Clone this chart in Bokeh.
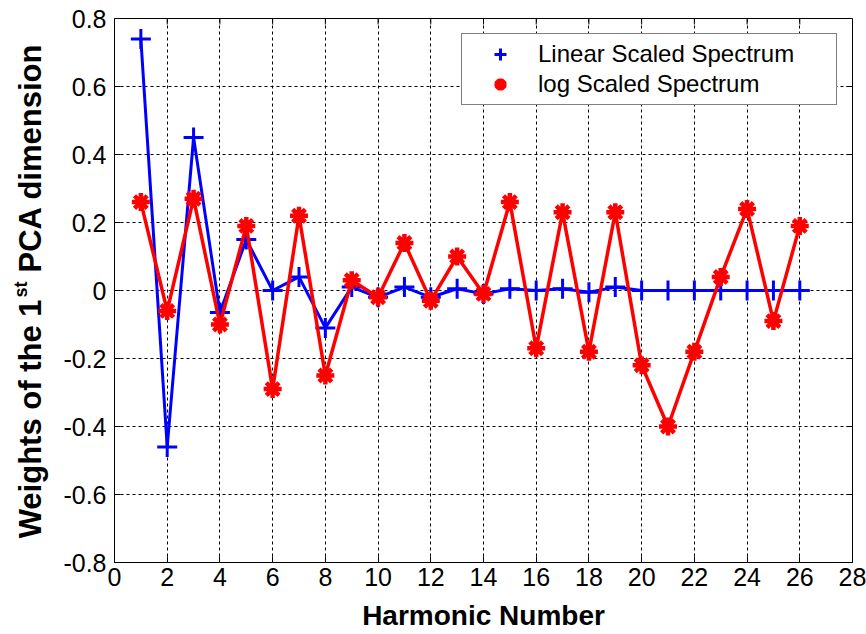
import math
from bokeh.plotting import figure
from bokeh.layouts import row
from bokeh.models import (ColumnDataSource, FixedTicker, Range1d,
                          Label, Legend, LegendItem)
from bokeh.embed import file_html
from bokeh.resources import INLINE

# ---- data ----
harmonics = [1, 2, 3, 4, 5, 6, 7, 8, 9, 10, 11, 12, 13,
             14, 15, 16, 17, 18, 19, 20, 21, 22, 23, 24, 25, 26]
linear_weights = [0.74, -0.46, 0.45, -0.065, 0.15, 0.0, 0.04, -0.11, 0.01, -0.02,
                  0.01, -0.02, 0.005, -0.01, 0.005, 0.0, 0.005, -0.005, 0.01, 0.0,
                  0.0, 0.0, 0.0, 0.0, 0.0, 0.0]
log_weights = [0.26, -0.06, 0.27, -0.10, 0.19, -0.29, 0.22, -0.25, 0.03, -0.02,
               0.14, -0.03, 0.10, -0.01, 0.26, -0.17, 0.23, -0.18, 0.23, -0.22,
               -0.40, -0.18, 0.04, 0.24, -0.09, 0.19]
x_ticks = [0, 2, 4, 6, 8, 10, 12, 14, 16, 18, 20, 22, 24, 26, 28]
y_ticks = [-0.8, -0.6, -0.4, -0.2, 0, 0.2, 0.4, 0.6, 0.8]
series_labels = ["Linear Scaled Spectrum", "log Scaled Spectrum"]
x_title = "Harmonic Number"
y_title_parts = ["Weights of the 1", "st", "PCA dimension"]

X_MIN, X_MAX = 0, 28
Y_MIN, Y_MAX = -0.8, 0.8

src = ColumnDataSource(dict(x=harmonics, lin=linear_weights, log=log_weights))

FONT = "Liberation Sans"
TOTAL_W, TOTAL_H = 866, 634
TITLE_W = 60
FRAME_BOTTOM = 562            # pixel row of the frame's lower edge
PX_Y = (Y_MAX - Y_MIN) / 544.0  # data units per pixel, vertically


def y_at(pixel_row):
    return Y_MIN + (FRAME_BOTTOM - pixel_row) * PX_Y


yr = Range1d(Y_MIN, Y_MAX)

# ---------- main chart ----------
p = figure(width=TOTAL_W - TITLE_W, height=TOTAL_H, output_backend="svg",
           toolbar_location=None,
           x_range=Range1d(X_MIN, X_MAX), y_range=yr,
           min_border_left=113 - TITLE_W, min_border_right=14,
           min_border_top=18, min_border_bottom=72,
           background_fill_color="white", border_fill_color="white")
p.outline_line_color = "black"
p.outline_line_width = 1

# ---------- narrow panel holding the rotated y title ----------
pt = figure(width=TITLE_W, height=TOTAL_H, output_backend="svg",
            toolbar_location=None, x_range=Range1d(0, TITLE_W),
            y_range=yr, x_axis_location=None,
            y_axis_location=None, min_border=0, outline_line_color=None,
            background_fill_color="white", border_fill_color="white")
pt.xgrid.visible = False
pt.ygrid.visible = False
ylab_common = dict(angle=math.pi / 2, text_font=FONT, text_font_style="bold",
                   text_color="black", text_baseline="alphabetic")
pt.add_layout(Label(x=30, y=y_at(299), text=y_title_parts[0], text_align="right",
                    text_font_size="31px", **ylab_common))
pt.add_layout(Label(x=20, y=y_at(297), text=y_title_parts[1], text_align="left",
                    text_font_size="18px", **ylab_common))
pt.add_layout(Label(x=30, y=y_at(272), text=y_title_parts[2], text_align="left",
                    text_font_size="31px", **ylab_common))

xt = FixedTicker(ticks=x_ticks)
yt = FixedTicker(ticks=y_ticks)
p.xaxis.ticker = xt
p.yaxis.ticker = yt
p.yaxis.major_label_overrides = {t: ("%g" % t) for t in y_ticks}

for ax in (p.xaxis[0], p.yaxis[0]):
    ax.major_tick_in = 6
    ax.major_tick_out = 0
    ax.minor_tick_in = 0
    ax.minor_tick_out = 0
    ax.axis_line_color = "black"
    ax.major_tick_line_color = "black"
    ax.major_label_text_color = "black"
    ax.major_label_text_font = FONT
    ax.major_label_text_font_size = "25px"

p.xaxis.major_label_standoff = 5
p.yaxis.major_label_standoff = 8
p.xaxis.axis_label = x_title
p.xaxis.axis_label_text_font = FONT
p.xaxis.axis_label_text_font_size = "28px"
p.xaxis.axis_label_text_font_style = "bold"
p.xaxis.axis_label_text_color = "black"
p.xaxis.axis_label_standoff = 11

for g in (p.xgrid[0], p.ygrid[0]):
    g.grid_line_color = "black"
    g.grid_line_dash = "3 3"
    g.grid_line_width = 1
    g.grid_line_alpha = 1
p.xgrid.ticker = xt
p.ygrid.ticker = yt

# inward ticks on the top and right edges of the box (from the tick lists)
p.ray(x=x_ticks, y=[Y_MAX] * len(x_ticks), length=6, length_units="screen",
      angle=-math.pi / 2, line_color="black", line_width=1)
p.ray(x=[X_MAX] * len(y_ticks), y=y_ticks, length=6, length_units="screen",
      angle=math.pi, line_color="black", line_width=1)

BLUE = "#0000ff"
RED = "#ff0000"

p.line("x", "lin", source=src, line_color=BLUE, line_width=3)
s_lin = p.scatter("x", "lin", source=src, marker="cross", size=20,
                  line_color=BLUE, line_width=3)
p.line("x", "log", source=src, line_color=RED, line_width=3.5)
s_log = p.scatter("x", "log", source=src, marker="asterisk", size=18,
                  line_color=RED, fill_color=RED, line_width=4.5)

legend = Legend(items=[LegendItem(label=series_labels[0], renderers=[s_lin]),
                       LegendItem(label=series_labels[1], renderers=[s_log])],
                location="top_right", margin=15, padding=5, spacing=0,
                glyph_width=66, glyph_height=30, label_height=30,
                label_width=293, label_standoff=5,
                label_text_font=FONT, label_text_font_size="24px",
                label_text_color="black",
                border_line_color="black", border_line_width=1,
                background_fill_color="white", background_fill_alpha=1)
p.add_layout(legend)

layout = row(pt, p, spacing=0)
open("out.html", "w").write(file_html(layout, INLINE))
